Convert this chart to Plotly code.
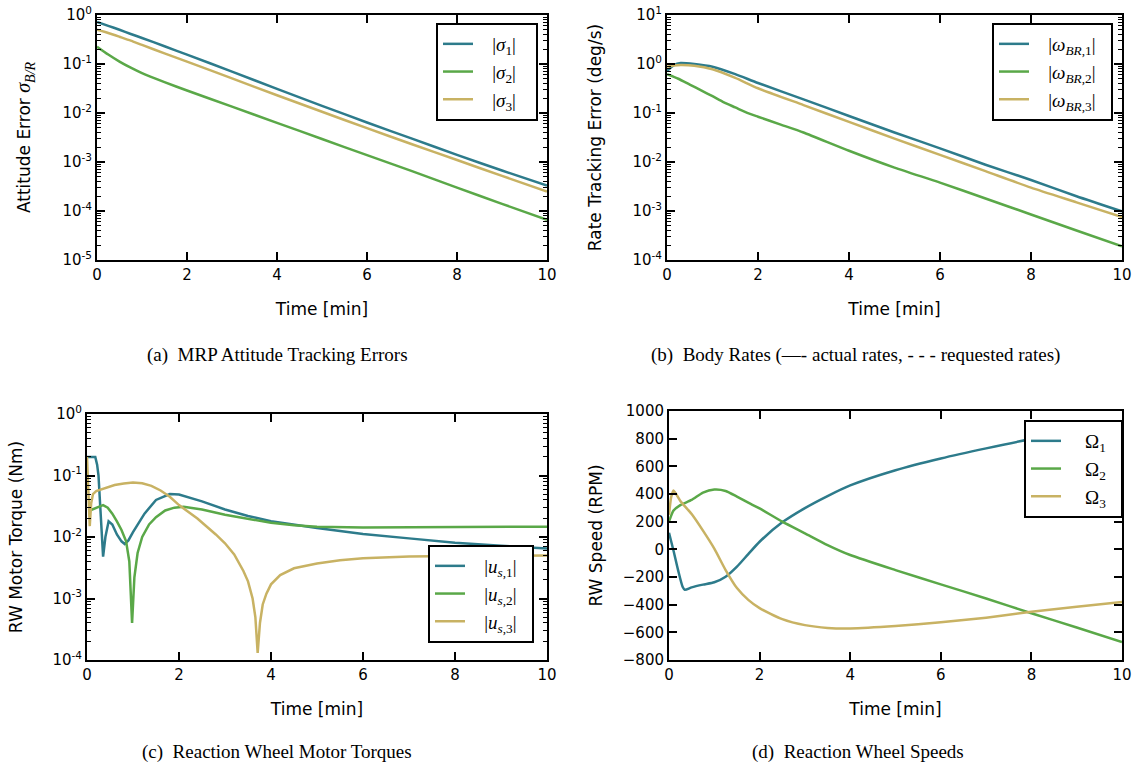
import plotly.graph_objects as go

# ---------------- data ----------------
# (a) MRP attitude tracking errors
t_sig = [0, 0.25, 0.5, 0.75, 1, 1.5, 2, 3, 4, 5, 6, 7, 8, 9, 10]
sig1 = [0.72, 0.60, 0.50, 0.41, 0.34, 0.23, 0.155, 0.070, 0.031, 0.014, 0.0064, 0.0030, 0.0014, 6.7e-4, 3.3e-4]
sig2 = [0.226, 0.156, 0.112, 0.084, 0.065, 0.0426, 0.0288, 0.0135, 0.0063, 0.00295, 0.00138, 6.5e-4, 3.0e-4, 1.4e-4, 6.6e-5]
sig3 = [0.50, 0.43, 0.36, 0.30, 0.245, 0.165, 0.112, 0.051, 0.023, 0.0106, 0.0049, 0.0023, 0.0011, 5.2e-4, 2.5e-4]

# (b) body rate tracking errors
t_om = [0, 0.15, 0.3, 0.6, 1, 1.5, 2, 3, 4, 5, 6, 7, 8, 9, 10]
om1 = [0.72, 0.95, 1.05, 1.0, 0.88, 0.62, 0.41, 0.19, 0.087, 0.040, 0.019, 0.0088, 0.0043, 0.0020, 9.8e-4]
om3 = [0.88, 0.93, 0.95, 0.92, 0.78, 0.52, 0.32, 0.145, 0.066, 0.030, 0.014, 0.0065, 0.0030, 0.0015, 7.5e-4]
t_om2 = [0, 0.25, 0.5, 0.75, 1, 1.25, 1.5, 1.75, 2, 2.5, 3, 4, 5, 6, 7, 8, 9, 10]
om2 = [0.62, 0.50, 0.38, 0.29, 0.22, 0.165, 0.13, 0.102, 0.084, 0.058, 0.040, 0.017, 0.0077, 0.0038, 0.0018, 8.5e-4, 4.0e-4, 1.9e-4]

# (c) reaction wheel motor torques
t_u1 = [0, 0.18, 0.22, 0.25, 0.28, 0.31, 0.35, 0.40, 0.47, 0.55, 0.65, 0.75, 0.82, 0.9, 1.0,
        1.25, 1.5, 1.8, 2.0, 2.5, 3, 3.5, 4, 5, 6, 7, 8, 9, 10]
u1 = [0.2, 0.2, 0.15, 0.10, 0.04, 0.013, 0.0048, 0.010, 0.018, 0.016, 0.011, 0.0085, 0.0077, 0.0088, 0.012,
      0.024, 0.040, 0.050, 0.049, 0.038, 0.028, 0.022, 0.018, 0.014, 0.0112, 0.0095, 0.0081, 0.0072, 0.0065]
t_u2 = [0.06, 0.15, 0.25, 0.35, 0.45, 0.55, 0.65, 0.75, 0.85, 0.92, 0.98, 1.03, 1.1, 1.2, 1.35,
        1.5, 1.7, 1.9, 2.1, 2.5, 3, 3.5, 4, 4.5, 5, 6, 7, 8, 9, 10]
u2 = [0.027, 0.029, 0.031, 0.033, 0.030, 0.024, 0.018, 0.013, 0.0085, 0.004, 0.0004, 0.0022, 0.0055, 0.010, 0.016,
      0.021, 0.027, 0.030, 0.031, 0.028, 0.023, 0.0195, 0.017, 0.0155, 0.0147, 0.0143, 0.0143, 0.0144, 0.0145, 0.0147]
t_u3 = [0, 0.03, 0.06, 0.09, 0.13, 0.2, 0.4, 0.6, 0.8, 1.0, 1.2, 1.4, 1.6, 1.8, 2.0, 2.4, 2.8, 3.0,
        3.2, 3.4, 3.5, 3.6, 3.66, 3.71, 3.76, 3.82, 3.9, 4.0, 4.2, 4.5, 5, 5.5, 6, 7, 8, 9, 10]
u3 = [0.2, 0.07, 0.015, 0.035, 0.050, 0.056, 0.063, 0.070, 0.074, 0.077, 0.075, 0.068, 0.057, 0.045, 0.033, 0.020, 0.011, 0.0079,
      0.0052, 0.0028, 0.0019, 0.0010, 0.0005, 0.00013, 0.0004, 0.0008, 0.0012, 0.0017, 0.0024, 0.0031, 0.0037, 0.0042, 0.0045, 0.0048, 0.0049, 0.0050, 0.0050]

# (d) reaction wheel speeds
t_w1 = [0, 0.1, 0.2, 0.3, 0.35, 0.5, 0.75, 1, 1.25, 1.5, 1.75, 2, 2.5, 3, 3.5, 4, 5, 6, 7, 8, 9, 10]
w1 = [120, -10, -150, -270, -292, -275, -255, -238, -198, -125, -34, 55, 195, 298, 385, 462, 572, 657, 730, 797, 853, 903]
t_w2 = [0, 0.1, 0.25, 0.5, 0.75, 1, 1.25, 1.5, 1.75, 2, 2.5, 3, 3.5, 4, 5, 6, 7, 8, 9, 10]
w2 = [200, 280, 320, 357, 410, 432, 422, 381, 337, 296, 200, 116, 31, -41, -150, -253, -355, -462, -565, -670]
t_w3 = [0, 0.05, 0.1, 0.25, 0.5, 0.75, 1, 1.25, 1.5, 1.75, 2, 2.5, 3, 3.5, 4, 5, 6, 7, 8, 9, 10]
w3 = [250, 380, 425, 350, 255, 135, 5, -150, -280, -365, -425, -505, -548, -568, -572, -555, -528, -494, -452, -415, -380]

# ---------------- style ----------------
C1, C2, C3 = "#2d7b8b", "#5aa848", "#c8b263"
W, H = 1141, 771
SANS = "DejaVu Sans"
SERIF = "Liberation Serif"


def px_x(a, b):
    return [a / W, b / W]


def px_y(top, bottom):
    return [1 - bottom / H, 1 - top / H]


fig = go.Figure()


def add(x, y, color, name, ax, legend, shape="spline"):
    fig.add_trace(go.Scatter(
        x=x, y=y, mode="lines", name=name,
        line=dict(color=color, width=2.5, shape=shape, smoothing=0.6),
        xaxis="x" + ax, yaxis="y" + ax, legend=legend,
    ))


PAD = "&nbsp;&nbsp;&nbsp;"
END = "&nbsp;&nbsp;&nbsp;"
add(t_sig, sig1, C1, PAD + "|<i>σ</i><sub>1</sub>|" + END, "", "legend")
add(t_sig, sig2, C2, PAD + "|<i>σ</i><sub>2</sub>|" + END, "", "legend")
add(t_sig, sig3, C3, PAD + "|<i>σ</i><sub>3</sub>|" + END, "", "legend")

add(t_om, om1, C1, PAD + "|<i>ω</i><sub><i>BR</i>,1</sub>|&nbsp;&nbsp;", "2", "legend2")
add(t_om2, om2, C2, PAD + "|<i>ω</i><sub><i>BR</i>,2</sub>|&nbsp;&nbsp;", "2", "legend2")
add(t_om, om3, C3, PAD + "|<i>ω</i><sub><i>BR</i>,3</sub>|&nbsp;&nbsp;", "2", "legend2")

add(t_u1, u1, C1, PAD + "|<i>u</i><sub><i>s</i>,1</sub>|&nbsp;&nbsp;", "3", "legend3", shape="linear")
add(t_u2, u2, C2, PAD + "|<i>u</i><sub><i>s</i>,2</sub>|&nbsp;&nbsp;", "3", "legend3", shape="linear")
add(t_u3, u3, C3, PAD + "|<i>u</i><sub><i>s</i>,3</sub>|&nbsp;&nbsp;", "3", "legend3", shape="linear")

add(t_w1, w1, C1, PAD + "&nbsp;Ω<sub>1</sub>&nbsp;&nbsp;", "4", "legend4")
add(t_w2, w2, C2, PAD + "&nbsp;Ω<sub>2</sub>&nbsp;&nbsp;", "4", "legend4")
add(t_w3, w3, C3, PAD + "&nbsp;Ω<sub>3</sub>&nbsp;&nbsp;", "4", "legend4")

frame = dict(showline=True, linecolor="black", linewidth=2, mirror="allticks",
             ticks="inside", ticklen=8, tickwidth=1.5, tickcolor="black",
             showgrid=False, zeroline=False, automargin=False,
             tickfont=dict(family=SANS, size=15, color="black"))
minor_log = dict(ticks="inside", ticklen=4, tickwidth=1, tickcolor="black", showgrid=False)
TFONT = dict(family=SANS, size=17, color="black")


def log_ticks(lo, hi):
    vals = [10.0 ** k for k in range(lo, hi + 1)]
    text = ["10<sup>%d</sup>" % k for k in range(lo, hi + 1)]
    minors = [m * 10.0 ** k for k in range(lo, hi) for m in range(2, 10)]
    return vals, text, minors


def xax(dom, anchor):
    return dict(frame, domain=dom, anchor=anchor, range=[0, 10], tickvals=[0, 2, 4, 6, 8, 10],
                title=dict(text="Time [min]", font=TFONT, standoff=20))


def ylog(dom, anchor, lo, hi, title, standoff):
    v, t, m = log_ticks(lo, hi)
    return dict(frame, domain=dom, anchor=anchor, type="log", range=[lo, hi],
                tickmode="array", tickvals=v, ticktext=t,
                minor=dict(minor_log, tickmode="array", tickvals=m),
                title=dict(text=title, font=TFONT, standoff=standoff))


xa = px_x(97, 547)
xb = px_x(667, 1122)
xc = px_x(87, 547)
xd = px_x(669, 1122)
ytop = px_y(15, 260)
yc = px_y(414, 660)
yd = px_y(411, 660)

fig.update_layout(
    width=W, height=H,
    margin=dict(l=0, r=0, t=0, b=0),
    paper_bgcolor="white", plot_bgcolor="white",
    xaxis=xax(xa, "y"),
    yaxis=ylog(ytop, "x", -5, 0, "Attitude Error <span style='font-family:Liberation Serif;font-size:20px'><i>σ</i><sub><i>B/R</i></sub></span>", 27),
    xaxis2=xax(xb, "y2"),
    yaxis2=ylog(ytop, "x2", -4, 1, "Rate Tracking Error (deg/s)", 26),
    xaxis3=xax(xc, "y3"),
    yaxis3=ylog(yc, "x3", -4, 0, "RW Motor Torque (Nm)", 25),
    xaxis4=xax(xd, "y4"),
    yaxis4=dict(frame, domain=yd, anchor="x4", range=[-800, 1000], tickvals=list(range(-800, 1001, 200)),
                title=dict(text="RW Speed (RPM)", font=TFONT, standoff=16)),
)

leg = dict(bgcolor="white", bordercolor="black", borderwidth=2,
           font=dict(family=SERIF, size=19, color="black"),
           xanchor="left", yanchor="top", itemwidth=30, tracegroupgap=0)
fig.update_layout(
    legend=dict(leg, x=436 / W, y=1 - 23 / H),
    legend2=dict(leg, x=992 / W, y=1 - 23 / H),
    legend3=dict(leg, x=428 / W, y=1 - 545 / H),
    legend4=dict(leg, x=1024 / W, y=1 - 420 / H),
)

captions = [
    ("(a)  MRP Attitude Tracking Errors", 277, 355),
    ("(b)  Body Rates (—- actual rates, - - - requested rates)", 855, 355),
    ("(c)  Reaction Wheel Motor Torques", 277, 752),
    ("(d)  Reaction Wheel Speeds", 858, 752),
]
for text, cx, cy in captions:
    fig.add_annotation(text=text, x=cx / W, y=1 - cy / H, xref="paper", yref="paper",
                       showarrow=False, xanchor="center", yanchor="middle",
                       font=dict(family=SERIF, size=19, color="black"))

fig.write_html("out.html", config={"displayModeBar": False},
               post_script="document.body.style.margin='0px'; document.body.style.overflow='hidden';")
